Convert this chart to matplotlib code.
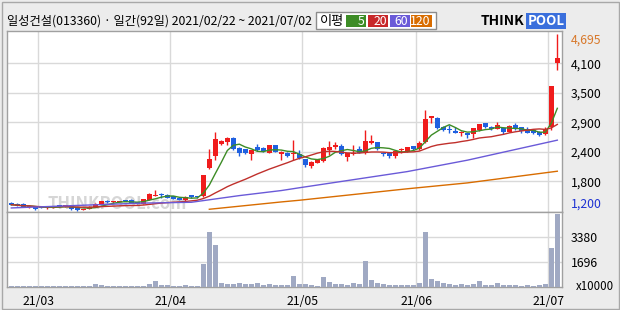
import matplotlib
matplotlib.use("Agg")
import matplotlib.pyplot as plt
from matplotlib.patches import Rectangle
import matplotlib.transforms as mtransforms
import numpy as np
import pandas as pd

plt.rcParams['font.family'] = ['Noto Sans CJK KR', 'DejaVu Sans']

W, H = 620, 310

TITLE = "일성건설(013360) · 일간(92일) 2021/02/22 ~ 2021/07/02"

# daily candles 2021/02/22 .. 2021/07/02 (92 trading days), price in won
OPEN = [1360, 1340, 1335, 1270, 1285, 1270, 1250, 1260, 1295, 1285,
        1285, 1255, 1215, 1235, 1270, 1330, 1400, 1370, 1375, 1395,
        1410, 1375, 1343, 1410, 1490, 1525, 1520, 1490, 1460, 1408,
        1507, 1480, 1487, 2036, 2285, 2517, 2562, 2642, 2444, 2418,
        2319, 2463, 2444, 2344, 2497, 2319, 2352, 2330, 2319, 2220,
        2081, 2147, 2180, 2398, 2457, 2477, 2266, 2313, 2418, 2345,
        2531, 2550, 2352, 2333, 2285, 2405, 2364, 2477, 2412, 2562,
        3038, 3026, 2859, 2815, 2780, 2740, 2729, 2721, 2794, 2927,
        2859, 2820, 2840, 2760, 2893, 2848, 2808, 2794, 2760, 2709,
        2859, 4115]
HIGH = [1375, 1350, 1345, 1295, 1290, 1275, 1275, 1300, 1310, 1300,
        1290, 1260, 1245, 1290, 1350, 1400, 1405, 1395, 1395, 1420,
        1425, 1380, 1430, 1545, 1610, 1560, 1530, 1495, 1465, 1485,
        1515, 1495, 1905, 2418, 2754, 2600, 2661, 2660, 2460, 2430,
        2410, 2517, 2455, 2505, 2510, 2375, 2360, 2596, 2400, 2230,
        2180, 2225, 2460, 2576, 2550, 2530, 2345, 2497, 2477, 2794,
        2695, 2560, 2360, 2340, 2395, 2440, 2460, 2485, 2576, 3190,
        3080, 3045, 2870, 2893, 2848, 2785, 2735, 2840, 2915, 2935,
        2870, 2946, 2850, 2890, 2927, 2860, 2859, 2800, 2770, 2850,
        3670, 4695]
LOW = [1310, 1290, 1270, 1260, 1225, 1250, 1245, 1255, 1275, 1280,
       1220, 1200, 1210, 1230, 1265, 1325, 1355, 1360, 1365, 1385,
       1345, 1335, 1335, 1405, 1485, 1460, 1445, 1430, 1410, 1400,
       1460, 1460, 1480, 2022, 2200, 2500, 2497, 2410, 2285, 2320,
       2200, 2390, 2370, 2335, 2355, 2200, 2270, 2200, 2220, 2067,
       2040, 2140, 2160, 2300, 2420, 2310, 2186, 2300, 2335, 2330,
       2520, 2400, 2290, 2234, 2234, 2340, 2355, 2400, 2400, 2531,
       2938, 2820, 2780, 2729, 2730, 2675, 2641, 2630, 2785, 2840,
       2800, 2810, 2709, 2750, 2805, 2735, 2730, 2721, 2675, 2700,
       2794, 3982]
CLOSE = [1320, 1300, 1280, 1285, 1245, 1255, 1270, 1290, 1290, 1295,
         1240, 1215, 1240, 1280, 1330, 1385, 1365, 1380, 1385, 1390,
         1355, 1340, 1428, 1540, 1520, 1515, 1450, 1435, 1415, 1480,
         1467, 1475, 1903, 2220, 2616, 2576, 2642, 2418, 2333, 2333,
         2398, 2398, 2378, 2497, 2364, 2364, 2280, 2345, 2234, 2101,
         2166, 2214, 2444, 2463, 2497, 2319, 2333, 2345, 2345, 2576,
         2576, 2412, 2313, 2285, 2384, 2418, 2452, 2412, 2531, 3012,
         3071, 2828, 2794, 2800, 2740, 2752, 2689, 2828, 2907, 2848,
         2808, 2893, 2748, 2879, 2814, 2780, 2741, 2741, 2689, 2820,
         3665, 4214]
# volume, x10000 shares
VOLUME = [60, 55, 60, 55, 60, 60, 55, 60, 60, 55,
          60, 60, 55, 60, 220, 155, 60, 60, 60, 60,
          60, 60, 60, 220, 425, 155, 155, 80, 80, 155,
          80, 80, 1570, 3730, 2850, 290, 220, 220, 290, 220,
          220, 290, 155, 220, 155, 155, 155, 760, 220, 220,
          155, 70, 690, 355, 220, 220, 155, 290, 220, 1775,
          490, 290, 220, 155, 155, 155, 155, 155, 290, 3730,
          560, 425, 290, 220, 155, 220, 155, 220, 425, 155,
          155, 290, 155, 155, 155, 70, 155, 70, 155, 220,
          2650, 4940]

# 60 / 120 day averages (they need history before the window)
MA60_DAY = [0, 12, 22, 30, 38, 45, 48, 66, 76, 91]
MA60_VAL = [1256, 1310, 1352, 1368, 1500, 1600, 1655, 1975, 2200, 2596]
MA120_DAY = [33, 45, 48, 66, 76, 91]
MA120_VAL = [1230, 1375, 1408, 1635, 1751, 1982]

MONTH_START = [5, 27, 49, 68, 90]
MONTH_LABELS = ["21/03", "21/04", "21/05", "21/06", "21/07"]

PRICE_TICKS = [1782, 2365, 2947, 3530, 4112]
PRICE_LABELS = ["1,800", "2,400", "2,900", "3,500", "4,100"]
PRICE_MAX, PRICE_MIN = 4695, 1200
VOL_TICKS = [1696, 3380]

MA_NAMES = ["5", "20", "60", "120"]

RED = "#f01c1c"
BLUE = "#1f60e0"
GREEN = "#3d8c26"
MA20_RED = "#c0302c"
PURPLE = "#6a5ad8"
ORANGE = "#d86c00"
GRID = "#d9d9d9"
FRAME = "#a0a0a0"


def fx(x):
    return x / W


def fy(y):
    return 1 - y / H


fig = plt.figure(figsize=(W / 100, H / 100), dpi=100)
fig.patch.set_facecolor("#ececec")
fig.add_artist(Rectangle((fx(1.5), fy(308.5)), fx(617), 307 / H,
                         transform=fig.transFigure, fill=False, ec="#a8a8a8", lw=1))

ax = fig.add_axes([fx(7), fy(212.3), fx(555), 181.3 / H])
axv = fig.add_axes([fx(7), fy(287.3), fx(555), 75 / H], sharex=ax)

idx = np.arange(len(CLOSE))
o, h, l, c = (np.array(v, dtype=float) for v in (OPEN, HIGH, LOW, CLOSE))
colors = np.where(c >= o, RED, BLUE)

for a in (ax, axv):
    a.set_facecolor("white")
    for s in a.spines.values():
        s.set_color(FRAME)
        s.set_linewidth(1)
    for m in MONTH_START:
        a.axvline(m - 0.5, color=GRID, lw=1, zorder=0)

ax.set_xlim(-0.72, 91.78)
ax.set_ylim(1170, 4754)
for t in PRICE_TICKS:
    ax.axhline(t, color=GRID, lw=1, zorder=0)

# watermark
ax.text(6.0, 1150, "THINKPOOL.com", fontsize=12, fontweight="bold", color="#d6d6d6",
        va="bottom", ha="left", zorder=1, clip_on=True)

ax.vlines(idx, l, h, colors=colors, lw=1, zorder=3)
ax.bar(idx, np.maximum(np.abs(c - o), 20), bottom=np.minimum(o, c), width=0.8,
       color=colors, linewidth=0, zorder=4)

close = pd.Series(CLOSE, dtype=float)
ax.plot(idx, close.rolling(5, min_periods=1).mean(), color=GREEN, lw=1, zorder=5)
ax.plot(idx, close.rolling(20, min_periods=1).mean(), color=MA20_RED, lw=1, zorder=5)
ax.plot(MA60_DAY, MA60_VAL, color=PURPLE, lw=1, zorder=5)
ax.plot(MA120_DAY, MA120_VAL, color=ORANGE, lw=1, zorder=5)

ax.yaxis.tick_right()
ax.set_yticks(PRICE_TICKS, PRICE_LABELS)
ax.tick_params(axis="y", length=0, pad=6.5, labelsize=8.8)
ax.tick_params(axis="x", length=0, labelbottom=False)

trans = mtransforms.blended_transform_factory(ax.transAxes, ax.transData)
ax.text(1 + 9 / 555, PRICE_MAX, f"{PRICE_MAX:,}", transform=trans, color="#d8782a",
        fontsize=8.8, ha="left", va="top")
ax.text(1 + 9 / 555, PRICE_MIN, f"{PRICE_MIN:,}", transform=trans, color="#1e32d2",
        fontsize=8.8, ha="left", va="bottom")

# volume
axv.bar(idx, VOLUME, width=0.83, color="#a0a9c3", linewidth=0, zorder=3)
axv.set_ylim(0, 5080)
for t in VOL_TICKS:
    axv.axhline(t, color=GRID, lw=1, zorder=0)
axv.yaxis.tick_right()
axv.set_yticks(VOL_TICKS, [str(t) for t in VOL_TICKS])
axv.tick_params(axis="y", length=0, pad=6.5, labelsize=8.8)
axv.set_xticks([m - 0.5 for m in MONTH_START], MONTH_LABELS)
axv.tick_params(axis="x", length=0, pad=5.5, labelsize=8.8)
fig.text(fx(575.5), fy(287), "x10000", fontsize=8.3, ha="left", va="center")

# header
fig.text(fx(7), fy(21), TITLE, fontsize=8.8, ha="left", va="center")

fig.add_artist(Rectangle((fx(315.5), fy(29.3)), fx(120.2), 17 / H,
                         transform=fig.transFigure, fc="white", ec="#8c8c8c", lw=1))
fig.text(fx(319.5), fy(21), "이평", fontsize=9.5, ha="left", va="center")
boxes = [(346.4, 366.1), (367.7, 388.3), (389.9, 409.6), (411.2, 431.8)]
for name, col, (x0, x1) in zip(MA_NAMES, [GREEN, "#c8282a", PURPLE, ORANGE], boxes):
    fig.add_artist(Rectangle((fx(x0), fy(27.3)), fx(x1 - x0), 12.3 / H,
                             transform=fig.transFigure, fc=col, ec="none"))
    fig.text(fx(x1 - 1.5), fy(21.2), name, fontsize=8.8, color="white",
             ha="right", va="center")

fig.text(fx(481), fy(21), "THINK", fontsize=10, fontweight="bold", color="black",
         ha="left", va="center")
fig.text(fx(527.5), fy(21), "POOL", fontsize=9.5, fontweight="bold", color="white",
         ha="left", va="center",
         bbox=dict(boxstyle="square,pad=0.08", fc="#3a6fdc", ec="none"))

fig.savefig("out.png", dpi=100, facecolor=fig.get_facecolor())
